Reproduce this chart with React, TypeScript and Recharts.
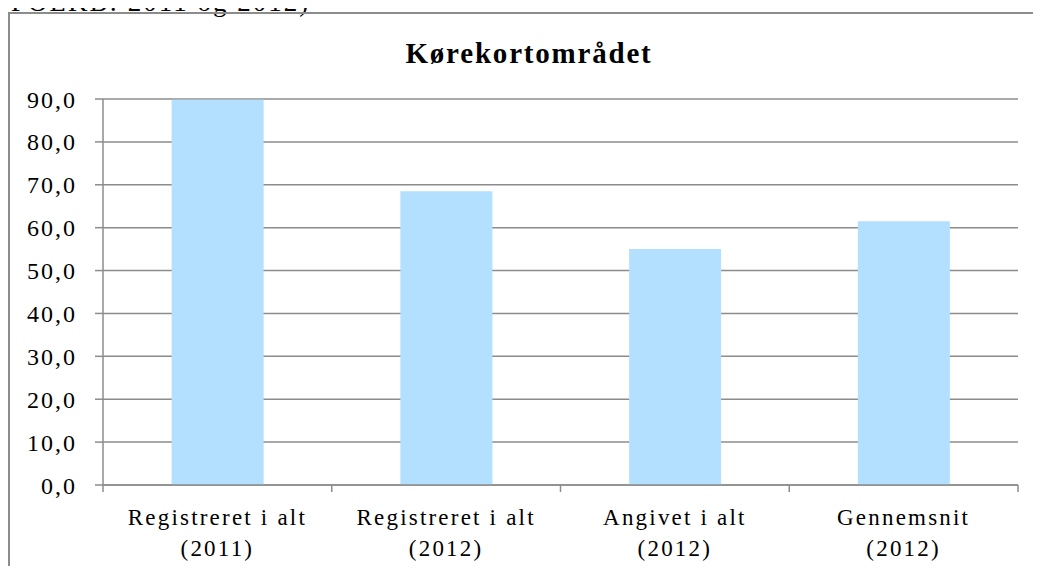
import { BarChart, Bar, XAxis, YAxis, CartesianGrid } from "recharts";

const categories = [
  "Registreret i alt\n(2011)",
  "Registreret i alt\n(2012)",
  "Angivet i alt\n(2012)",
  "Gennemsnit\n(2012)",
];
const values = [89.8, 68.5, 55.0, 61.5];
const yTicks = [0, 10, 20, 30, 40, 50, 60, 70, 80, 90];

const title = "Kørekortområdet";
const caption = "(FOLKB: 2011 og 2012)";

const data = categories.map((c, i) => ({ name: c, value: values[i] }));

const GRID = "#8c8c8c";
const FONT = "Liberation Serif";

function CategoryTick(props: any) {
  const { x, y, payload, index, visibleTicksCount } = props;
  const half = payload?.offset ?? 0;
  const lines = String(payload.value).split("\n");
  const top = y - 8;
  const last = index === visibleTicksCount - 1;
  return (
    <g>
      <line x1={x - half} x2={x - half} y1={top} y2={top + 7} stroke={GRID} strokeWidth={1.5} />
      {last && (
        <line x1={x + half} x2={x + half} y1={top} y2={top + 7} stroke={GRID} strokeWidth={1.5} />
      )}
      <text
        x={x}
        y={top + 40}
        textAnchor="middle"
        fontFamily={FONT}
        fontSize={23}
        fill="#000"
        style={{ letterSpacing: "2.2px" }}
      >
        {lines.map((l, i) => (
          <tspan key={i} x={x} dy={i === 0 ? 0 : 31}>
            {l}
          </tspan>
        ))}
      </text>
    </g>
  );
}

export default function App() {
  return (
    <div
      style={{
        position: "relative",
        width: 1041,
        height: 574,
        margin: -8,
        overflow: "hidden",
        background: "#fff",
        fontFamily: FONT,
      }}
    >
      <div
        style={{
          position: "absolute",
          left: 0,
          top: -11,
          fontSize: 27,
          lineHeight: "27px",
          letterSpacing: 2,
          whiteSpace: "nowrap",
        }}
      >
        {caption}
      </div>
      <div
        style={{
          position: "absolute",
          left: 8,
          top: 12,
          width: 1100,
          height: 700,
          border: `2px solid ${GRID}`,
        }}
      />
      <div
        style={{
          position: "absolute",
          left: 0,
          width: 1058,
          top: 38.7,
          textAlign: "center",
          fontSize: 29,
          lineHeight: "29px",
          fontWeight: "bold",
          letterSpacing: 1.8,
        }}
      >
        {title}
      </div>
      <div style={{ position: "absolute", left: 0, top: 0 }}>
        <BarChart
          width={1041}
          height={574}
          data={data}
          margin={{ top: 99, right: 23, bottom: 0, left: 0 }}
          barCategoryGap="30%"
        >
          <CartesianGrid vertical={false} stroke={GRID} strokeWidth={1.5} />
          <XAxis
            dataKey="name"
            interval={0}
            height={89}
            axisLine={{ stroke: GRID, strokeWidth: 1.5 }}
            tickLine={false}
            tick={<CategoryTick />}
          />
          <YAxis
            width={103}
            domain={[0, 90]}
            ticks={yTicks}
            interval={0}
            allowDataOverflow
            axisLine={{ stroke: GRID, strokeWidth: 1.5 }}
            tickLine={{ stroke: GRID, strokeWidth: 1.5 }}
            tickSize={8}
            tickMargin={18}
            tickFormatter={(v: number) => v.toFixed(1).replace(".", ",")}
            tick={{
              fill: "#000",
              fontSize: 24,
              fontFamily: FONT,
              style: { letterSpacing: "2px" },
            }}
          />
          <Bar dataKey="value" fill="#B3E0FE" isAnimationActive={false} />
        </BarChart>
      </div>
    </div>
  );
}
